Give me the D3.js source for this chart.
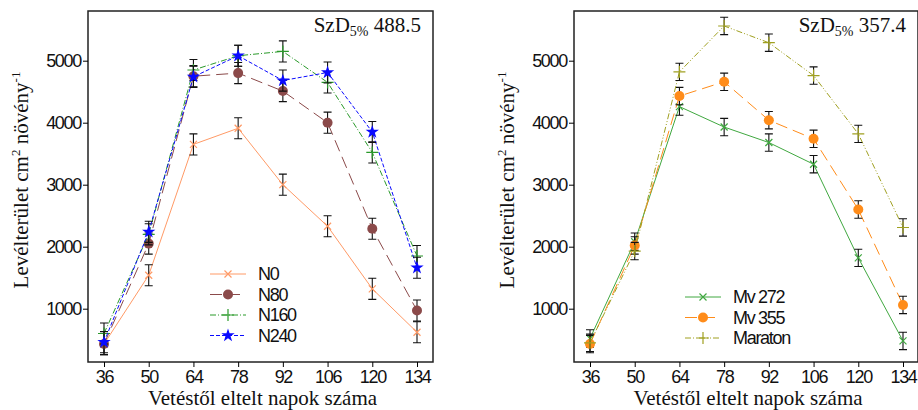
<!DOCTYPE html>
<html>
<head>
<meta charset="utf-8">
<script src="https://cdn.jsdelivr.net/npm/d3@7"></script>
<style>
  body { margin: 0; background: #fff; }
  .tick text { font-family: "Liberation Sans", Arial, sans-serif; font-size: 18px; letter-spacing: -1.3px; fill: #111; }
  .title { font-family: "Liberation Serif", "Times New Roman", serif; font-size: 21px; fill: #111; }
  .leg { font-family: "Liberation Sans", Arial, sans-serif; font-size: 18px; letter-spacing: -1.3px; fill: #111; }
</style>
</head>
<body>
<script>
var days = [36, 50, 64, 78, 92, 106, 120, 134];
var yTicks = [1000, 2000, 3000, 4000, 5000];

var n0 = [430, 1540, 3650, 3910, 3000, 2330, 1320, 620];
var n80 = [430, 2050, 4750, 4800, 4510, 4000, 2290, 970];
var n160 = [600, 2200, 4850, 5080, 5150, 4650, 3520, 1850];
var n240 = [460, 2240, 4740, 5080, 4680, 4810, 3850, 1660];

var mv272 = [520, 2080, 4260, 3930, 3680, 3330, 1820, 480];
var mv355 = [430, 2020, 4430, 4660, 4040, 3740, 2600, 1060];
var maraton = [450, 1930, 4820, 5560, 5290, 4760, 3820, 2310];

var errLeft = 170, errRight = 140;

var svg = d3.select("body").append("svg").attr("width", 918).attr("height", 410);

function marker(g, type, x, y, color) {
  if (type === "x") {
    g.append("path").attr("d", "M" + (x-3.5) + "," + (y-3.5) + "L" + (x+3.5) + "," + (y+3.5) + "M" + (x-3.5) + "," + (y+3.5) + "L" + (x+3.5) + "," + (y-3.5))
      .attr("stroke", color).attr("stroke-width", 1.2);
  } else if (type === "plus") {
    g.append("path").attr("d", "M" + (x-6) + "," + y + "L" + (x+6) + "," + y + "M" + x + "," + (y-6) + "L" + x + "," + (y+6))
      .attr("stroke", color).attr("stroke-width", 1.2);
  } else if (type === "circle") {
    g.append("circle").attr("cx", x).attr("cy", y).attr("r", 5).attr("fill", color);
  } else if (type === "star") {
    g.append("path").attr("d", d3.symbol(d3.symbolStar, 55)()).attr("transform", "translate(" + x + "," + y + ")").attr("fill", color);
  }
}

function panel(opt) {
  var x = d3.scalePoint().domain(days).range([opt.x0, opt.x1]);
  var y = d3.scaleLinear().domain([0, 1000]).range([370.7, 308.7]);
  var g = svg.append("g");

  g.append("rect").attr("x", opt.left).attr("y", 11).attr("width", opt.right - opt.left).attr("height", 351)
    .attr("fill", "none").attr("stroke", "#222").attr("stroke-width", 1.5);

  var ya = g.append("g").attr("transform", "translate(" + opt.left + ",0)")
    .call(d3.axisLeft(y).tickValues(yTicks).tickFormat(d3.format("d")).tickSize(5).tickPadding(2));
  ya.select(".domain").remove();
  var xa = g.append("g").attr("transform", "translate(0,362)")
    .call(d3.axisBottom(x).tickSize(5).tickPadding(3));
  xa.select(".domain").remove();

  g.append("text").attr("class", "title").attr("text-anchor", "middle")
    .attr("x", (opt.left + opt.right) / 2 + 2).attr("y", 405).text("Vetéstől eltelt napok száma");
  var yt = g.append("text").attr("class", "title").attr("text-anchor", "middle")
    .attr("transform", "translate(" + (opt.left - 60) + ",180) rotate(-90)");
  yt.append("tspan").text("Levélterület cm");
  yt.append("tspan").attr("dy", -8).attr("font-size", 13).text("2");
  yt.append("tspan").attr("dy", 8).text(" növény");
  yt.append("tspan").attr("dy", -8).attr("font-size", 13).text("-1");

  var sz = g.append("text").attr("class", "title").attr("text-anchor", "end")
    .attr("x", opt.right - 12).attr("y", 32);
  sz.append("tspan").text("SzD");
  sz.append("tspan").attr("dy", 4).attr("font-size", 14).text("5%");
  sz.append("tspan").attr("dy", -4).text(" " + opt.szd);

  opt.series.forEach(function (s, i) {
    var line = d3.line().x(function (d, j) { return x(days[j]); }).y(function (d) { return y(d); });
    g.append("path").datum(s.values).attr("d", line).attr("fill", "none")
      .attr("stroke", s.color).attr("stroke-width", 1).attr("stroke-dasharray", s.dash);
    s.values.forEach(function (v, j) {
      var cx = x(days[j]);
      var e = opt.err;
      g.append("path").attr("d", "M" + cx + "," + y(v - e) + "V" + y(v + e) + "M" + (cx-4) + "," + y(v - e) + "H" + (cx+4) + "M" + (cx-4) + "," + y(v + e) + "H" + (cx+4))
        .attr("stroke", "#111").attr("stroke-width", 1.1).attr("fill", "none");
      marker(g, s.marker, cx, y(v), s.color);
    });
    var ly = opt.legY + i * opt.legStep;
    g.append("line").attr("x1", opt.legX).attr("x2", opt.legX + 36).attr("y1", ly).attr("y2", ly)
      .attr("stroke", s.color).attr("stroke-width", 1).attr("stroke-dasharray", s.dash);
    marker(g, s.marker, opt.legX + 18, ly, s.color);
    g.append("text").attr("class", "leg").attr("x", opt.legX + 48).attr("y", ly + 6).text(s.name);
  });
}

panel({
  left: 88, right: 433, x0: 104, x1: 417, szd: "488.5", err: errLeft,
  legX: 210, legY: 274, legStep: 20.5,
  series: [
    { name: "N0", values: n0, color: "#ff9a66", dash: null, marker: "x" },
    { name: "N80", values: n80, color: "#8b4a4a", dash: "12,6", marker: "circle" },
    { name: "N160", values: n160, color: "#2a9a2a", dash: "6,2,1,2", marker: "plus" },
    { name: "N240", values: n240, color: "#0a0aff", dash: "4,2", marker: "star" }
  ]
});

panel({
  left: 574, right: 918, x0: 590, x1: 903, szd: "357.4", err: errRight,
  legX: 685, legY: 297, legStep: 20.5,
  series: [
    { name: "Mv 272", values: mv272, color: "#40a840", dash: null, marker: "x" },
    { name: "Mv 355", values: mv355, color: "#ff8c1a", dash: "12,6", marker: "circle" },
    { name: "Maraton", values: maraton, color: "#a0a020", dash: "6,2,1,2,1,2", marker: "plus" }
  ]
});
</script>
</body>
</html>
